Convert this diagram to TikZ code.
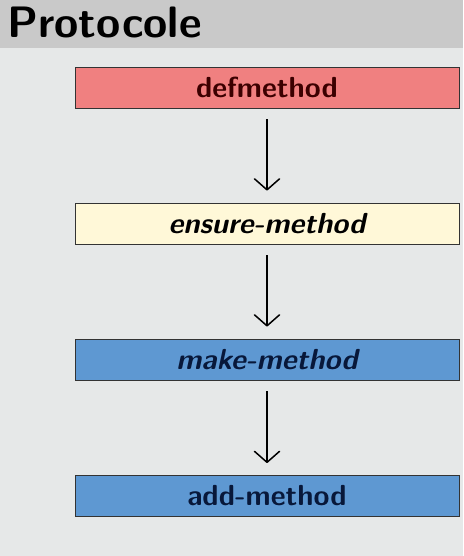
\documentclass[tikz,border=0pt]{standalone}
\usepackage{fontspec}
\usetikzlibrary{positioning, arrows.meta}
\definecolor{titlegrey}{RGB}{201,201,201}
\definecolor{bodygrey}{RGB}{230,232,232}
\definecolor{defred}{RGB}{240,128,128}
\definecolor{ensureyellow}{RGB}{255,248,216}
\definecolor{makeblue}{RGB}{94,152,210}
\definecolor{darkred}{RGB}{60,0,0}
\definecolor{darknavy}{RGB}{8,24,58}
\tikzset{
    protobox/.style={rectangle, draw=black!80, line width=0.8pt, minimum width=384pt, minimum height=41pt, inner sep=0pt, font=\sffamily\bfseries\fontsize{29}{32}\selectfont},
    defstyle/.style={protobox, fill=defred, text=darkred},
    ensurestyle/.style={protobox, fill=ensureyellow, text=black, font=\sffamily\bfseries\itshape\fontsize{29}{32}\selectfont},
    makestyle/.style={protobox, fill=makeblue, text=darknavy, font=\sffamily\bfseries\itshape\fontsize{29}{32}\selectfont},
    addstyle/.style={protobox, fill=makeblue, text=darknavy},
    flow/.style={-{Straight Barb[length=11pt, width=25pt, line width=1.5pt, round]}, line width=1.5pt, black, shorten <=11pt, shorten >=12pt}
}
\begin{document}
\begin{tikzpicture}[x=1pt, y=1pt]
        % Background and title bar
        \fill[bodygrey] (0,0) rectangle (463,556);
        \fill[titlegrey] (0,508) rectangle (463,556);
        \useasboundingbox (0,0) rectangle (463,556);
        \node[anchor=base west, font=\sffamily\bfseries\fontsize{44}{48}\selectfont, inner sep=0pt] (title) at (7,518) {Protocole};

        % Protocol steps
        \node[defstyle] (defm) at (267,468.5) {defmethod};
        \node[ensurestyle] (ensurem) at (267,332.5) {ensure-method};
        \node[makestyle] (makem) at (267,196.5) {make-method};
        \node[addstyle] (addm) at (267,60) {add-method};

        % Calls
        \draw[flow] (defm) -- (ensurem);
        \draw[flow] (ensurem) -- (makem);
        \draw[flow] (makem) -- (addm);
    \end{tikzpicture}
\end{document}
